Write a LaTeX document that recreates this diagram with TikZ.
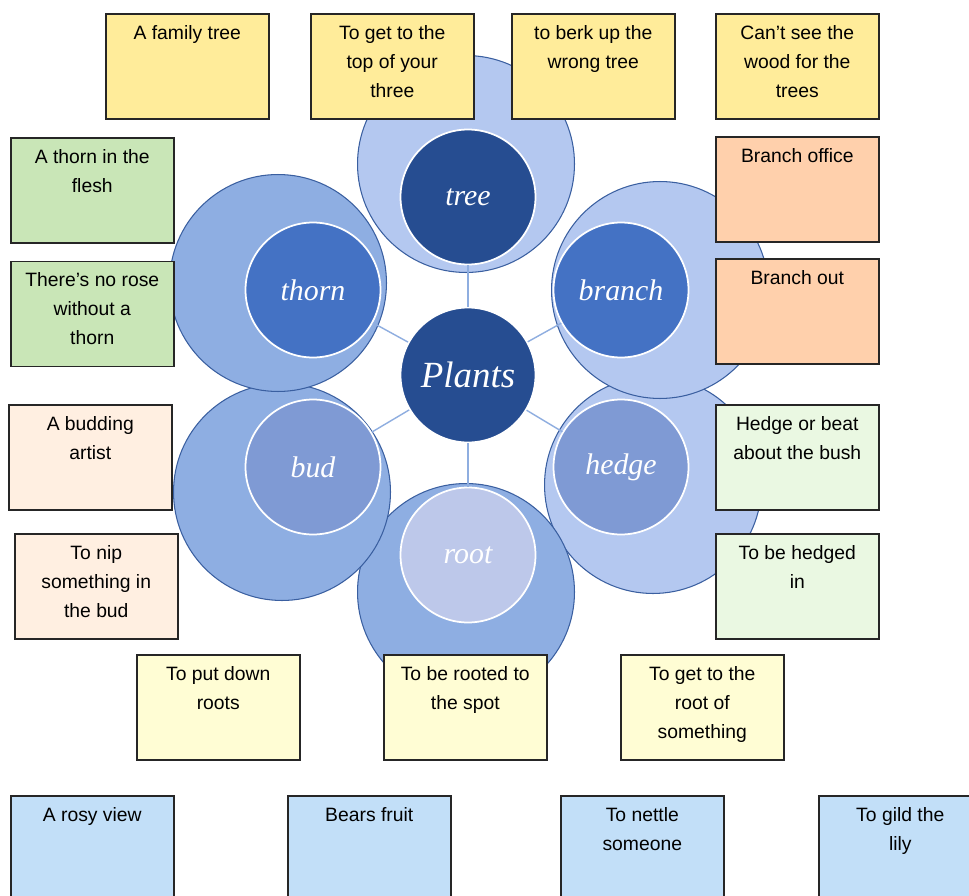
\documentclass[tikz,border=0pt]{standalone}
\usepackage{fontspec}
\setmainfont{Liberation Sans}
\newfontfamily\circlefont{Liberation Serif}
\usepackage{xcolor}
\usepackage{tikz}
\usetikzlibrary{positioning}

\definecolor{plantblue}{HTML}{264D91}
\definecolor{coreblue}{HTML}{4472C4}
\definecolor{corelilac}{HTML}{7F9AD4}
\definecolor{corepale}{HTML}{BDC8EA}
\definecolor{ringmid}{HTML}{8EAEE2}
\definecolor{ringlight}{HTML}{B4C8F0}
\definecolor{ringedge}{HTML}{3A5FA0}
\definecolor{linkblue}{HTML}{8FAEE0}
\definecolor{noteyellow}{HTML}{FFEC9A}
\definecolor{notegreen}{HTML}{C9E6B7}
\definecolor{noteorange}{HTML}{FFD0AC}
\definecolor{notepeach}{HTML}{FFEFE1}
\definecolor{notemint}{HTML}{EAF8E2}
\definecolor{notecream}{HTML}{FFFDD4}
\definecolor{noteblue}{HTML}{C2DFF8}

\newcommand{\notetext}[1]{\parbox[c][1.9cm][t]{3.1cm}{\centering\fontsize{11}{16.5}\selectfont\strut #1}}

\begin{document}
\begin{tikzpicture}[x=0.02cm, y=-0.02cm,
                    note/.style={draw=black!85, line width=0.9pt, rectangle, anchor=north west,
                                 minimum width=3.26cm, minimum height=2.1cm, inner sep=0pt},
                    ring/.style={circle, draw=ringedge, line width=0.6pt, minimum size=4.34cm},
                    core/.style={circle, draw=white, line width=1pt, minimum size=2.7cm,
                                 text=white, font=\circlefont\itshape\fontsize{17}{20}\selectfont},
                    link/.style={draw=linkblue, line width=0.8pt}]
        \useasboundingbox (0,0) rectangle (969,895);
        \fill[white] (0,0) rectangle (969,895);

        % outer rings
        \node[ring, fill=ringlight] (hedgering) at (653,485) {};
        \node[ring, fill=ringmid] (rootring) at (466,592) {};
        \node[ring, fill=ringmid] (budring) at (282,492) {};
        \node[ring, fill=ringmid] (thornring) at (278,283) {};
        \node[ring, fill=ringlight] (treering) at (466,164) {};
        \node[ring, fill=ringlight] (branchring) at (660,290) {};

        % inner circles
        \node[core, fill=plantblue, font=\circlefont\itshape\fontsize{21}{24}\selectfont] (plants) at (468,375) {Plants};
        \node[core, fill=plantblue] (tree) at (468,197) {tree};
        \node[core, fill=coreblue] (thorn) at (313,290) {thorn};
        \node[core, fill=coreblue] (branch) at (621,290) {branch};
        \node[core, fill=corelilac] (bud) at (313,467) {bud};
        \node[core, fill=corelilac] (hedge) at (621,467) {hedge};
        \node[core, fill=corepale] (root) at (468,555) {root};

        \foreach \leaf in {tree,thorn,branch,bud,hedge,root}
                \draw[link] (plants) -- (\leaf);

        % sayings
        \node[note, fill=noteyellow] (family) at (105,13) {\notetext{A family tree}};
        \node[note, fill=noteyellow] (topthree) at (310,13) {\notetext{To get to the\\ top of your\\ three}};
        \node[note, fill=noteyellow] (berk) at (511,13) {\notetext{to berk up the\\ wrong tree}};
        \node[note, fill=noteyellow] (wood) at (715,13) {\notetext{Can't see the\\ wood for the\\ trees}};

        \node[note, fill=notegreen] (flesh) at (10,137) {\notetext{A thorn in the\\ flesh}};
        \node[note, fill=notegreen, below=0.34cm of flesh.south west, anchor=north west] (rose) {\notetext{There's no rose\\ without a\\ thorn}};
        \node[note, fill=noteorange] (office) at (715,136) {\notetext{Branch office}};
        \node[note, fill=noteorange] (branchout) at (715,258) {\notetext{Branch out}};

        \node[note, fill=notepeach] (budding) at (8,404) {\notetext{A budding\\ artist}};
        \node[note, fill=notepeach] (nip) at (14,533) {\notetext{To nip\\ something in\\ the bud}};
        \node[note, fill=notemint] (bush) at (715,404) {\notetext{Hedge or beat\\ about the bush}};
        \node[note, fill=notemint] (hedgedin) at (715,533) {\notetext{To be hedged\\ in}};

        \node[note, fill=notecream] (putdown) at (136,654) {\notetext{To put down\\ roots}};
        \node[note, fill=notecream] (spot) at (383,654) {\notetext{To be rooted to\\ the spot}};
        \node[note, fill=notecream] (rootof) at (620,654) {\notetext{To get to the\\ root of\\ something}};

        \node[note, fill=noteblue] (rosy) at (10,795) {\notetext{A rosy view}};
        \node[note, fill=noteblue] (fruit) at (287,795) {\notetext{Bears fruit}};
        \node[note, fill=noteblue] (nettle) at (560,795) {\notetext{To nettle\\ someone}};
        \node[note, fill=noteblue] (gild) at (818,795) {\notetext{To gild the\\ lily}};
\end{tikzpicture}
\end{document}
